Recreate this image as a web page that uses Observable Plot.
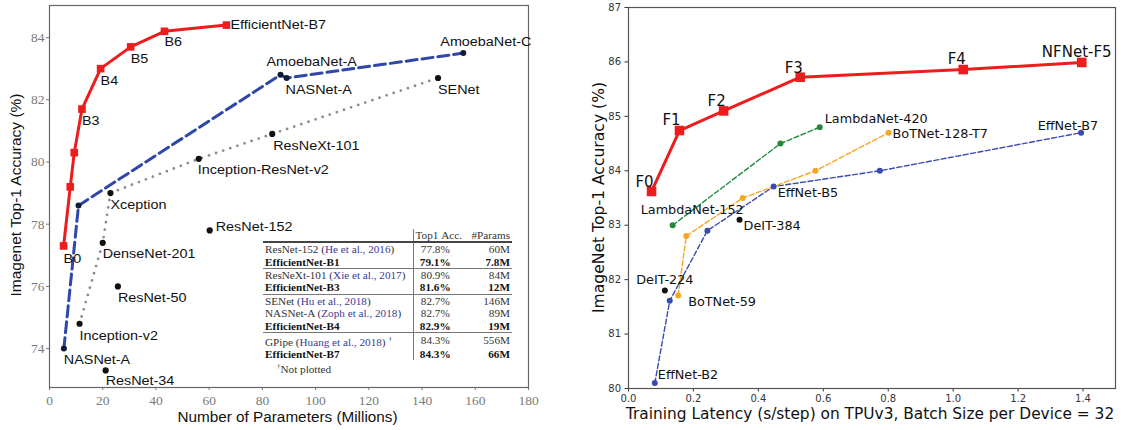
<!DOCTYPE html>
<html><head><meta charset="utf-8">
<script src="https://cdn.jsdelivr.net/npm/d3@7"></script>
<script src="https://cdn.jsdelivr.net/npm/@observablehq/plot@0.6"></script>
<style>
html,body{margin:0;padding:0;background:#fff}
body{width:1126px;height:430px;overflow:hidden;position:relative}
#left{position:absolute;left:0;top:0}
#right{position:absolute;left:580px;top:0}
#tbl{position:absolute;left:263px;top:229px;width:249px}
#tbl table{border-collapse:collapse;table-layout:fixed;width:249px;font-family:"Liberation Serif","Times New Roman",serif;font-size:11.2px;color:#333}
#tbl td{padding:0 2px;height:12.4px;line-height:12px;white-space:nowrap;overflow:visible}
#tbl tr.hdr td{border-bottom:2px solid #444;height:12px}
#tbl tr.grp td{border-top:1px solid #777}
#tbl td.v{border-left:1px solid #777}
#tbl .cite{color:#3a3c98}
#tbl b{color:#111}
</style></head><body>
<div id="left"></div><div id="right"></div><div id="tbl"></div>
<script>
// ---------- LEFT PANEL DATA (params in millions, top-1 %) ----------
const effLabels = ["B0","","","B3","B4","B5","B6","EfficientNet-B7"];
const effParams = [5.3,7.8,9.3,12.2,19.2,30.5,43.2,66.5];
const effAcc    = [77.3,79.2,80.3,81.7,83.0,83.7,84.2,84.4];

const nasLabels = ["NASNet-A","","AmoebaNet-A","NASNet-A","AmoebaNet-C"];
const nasParams = [5.4,10.9,86.8,89.1,155.5];
const nasAcc    = [74.0,78.6,82.8,82.7,83.5];

const grayLabels = ["Inception-v2","DenseNet-201","Xception","Inception-ResNet-v2","ResNeXt-101","SENet"];
const grayParams = [11.3,20.0,22.9,56.1,83.7,146.0];
const grayAcc    = [74.8,77.4,79.0,80.1,80.9,82.7];

const resLabels = ["ResNet-34","ResNet-50","ResNet-152"];
const resParams = [21.1,25.7,60.2];
const resAcc    = [73.3,76.0,77.8];

const leftXTicks = [0,20,40,60,80,100,120,140,160,180];
const leftYTicks = [74,76,78,80,82,84];

// table inside left panel
const tableModels = ["ResNet-152","EfficientNet-B1","ResNeXt-101","EfficientNet-B3","SENet","NASNet-A","EfficientNet-B4","GPipe","EfficientNet-B7"];
const tableCites  = ["He et al., 2016","","Xie et al., 2017","","Hu et al., 2018","Zoph et al., 2018","","Huang et al., 2018",""];
const tableAcc    = ["77.8%","79.1%","80.9%","81.6%","82.7%","82.7%","82.9%","84.3%","84.3%"];
const tableParams = ["60M","7.8M","84M","12M","146M","89M","19M","556M","66M"];
const tableGroup  = [0,0,1,1,2,2,2,3,3];
const tableDagger = [false,false,false,false,false,false,false,true,false];

// ---------- RIGHT PANEL DATA (latency s/step, top-1 %) ----------
const nfLabels = ["F0","F1","F2","F3","F4","NFNet-F5"];
const nfLat    = [0.071,0.157,0.293,0.529,1.031,1.396];
const nfAcc    = [83.62,84.74,85.10,85.72,85.86,85.99];

const lambdaLabels = ["LambdaNet-152","","LambdaNet-420"];
const lambdaLat    = [0.136,0.468,0.589];
const lambdaAcc    = [83.0,84.5,84.8];

const botLabels = ["BoTNet-59","","","","BoTNet-128-T7"];
const botLat    = [0.153,0.178,0.352,0.576,0.801];
const botAcc    = [81.71,82.8,83.5,84.0,84.7];

const effRLabels = ["EffNet-B2","","","EffNet-B5","","EffNet-B7"];
const effRLat    = [0.081,0.127,0.243,0.447,0.774,1.394];
const effRAcc    = [80.1,81.61,82.9,83.71,84.0,84.7];

const deitLabels = ["DeIT-224","DeIT-384"];
const deitLat    = [0.112,0.342];
const deitAcc    = [81.8,83.1];

const rightXTicks = [0,0.2,0.4,0.6,0.8,1.0,1.2,1.4];
const rightYTicks = [80,81,82,83,84,85,86,87];

// ---------- label placement (layout only) ----------
const effOff  = [[0,13,"start"],null,null,[0,12,"start"],[0,12,"start"],[0,12,"start"],[0,11,"start"],[4,0,"start"]];
const nasOff  = [[0,11,"start"],null,[-14,-13,"start"],[-1,12,"start"],[-23,-11,"start"]];
const grayOff = [[0,12,"start"],[0,11,"start"],[0,12,"start"],[-1,11,"start"],[1,12,"start"],[0,12,"start"]];
const resOff  = [[0,11,"start"],[0,12,"start"],[6,-3,"start"]];

const nfOff     = [[-7,-9,"middle"],[-8,-10,"middle"],[-7,-10,"middle"],[-6.5,-9,"middle"],[-6.5,-10,"middle"],[-5,-10,"middle"]];
const lambdaOff = [[-32,-15,"start"],null,[5,-8,"start"]];
const botOff    = [[10,6,"start"],null,null,null,[4,1,"start"]];
const effROff   = [[3,-8,"start"],null,null,[4,6,"start"],null,[17,-7,"end"]];
const deitOff   = [[0,-11,"middle"],[4,6,"start"]];

function rows(labels, xs, ys, offs) {
  return labels.map((l, i) => ({label: l, x: xs[i], y: ys[i], off: offs ? offs[i] : null}));
}
function labelMarks(data, opts) {
  const groups = d3.groups(data.filter(d => d.label && d.off), d => d.off.join(","));
  return groups.map(([k, g]) => Plot.text(g, {
    x: "x", y: "y", text: "label",
    dx: g[0].off[0], dy: g[0].off[1], textAnchor: g[0].off[2],
    className: "lbl",
    ...opts
  }));
}

const effData  = rows(effLabels, effParams, effAcc, effOff);
const nasData  = rows(nasLabels, nasParams, nasAcc, nasOff);
const grayData = rows(grayLabels, grayParams, grayAcc, grayOff);
const resData  = rows(resLabels, resParams, resAcc, resOff);

const leftFont = {fontFamily: "Liberation Sans, Arial, sans-serif", fontSize: 12.5, fill: "#111"};

const left = Plot.plot({
  width: 545, height: 430,
  marginLeft: 49, marginRight: 17, marginTop: 5, marginBottom: 43,
  x: {domain: [0, 180], ticks: leftXTicks, tickSize: 3, tickPadding: 5, label: null},
  y: {domain: [72.75, 85.03], ticks: leftYTicks, tickSize: 3, tickPadding: 2, label: null},
  style: {fontFamily: "Liberation Serif, serif", fontSize: "13.5px", color: "#7a7a7a", background: "white"},
  marks: [
    Plot.frame({stroke: "#666", strokeWidth: 1.2}),
    Plot.line(grayData, {x: "x", y: "y", stroke: "#8c8c8c", strokeWidth: 2.8, strokeDasharray: "0 7.5", strokeLinecap: "round"}),
    Plot.line(nasData, {x: "x", y: "y", stroke: "#2f47a8", strokeWidth: 3, strokeDasharray: "11 5"}),
    Plot.line(effData, {x: "x", y: "y", stroke: "#ee1c1c", strokeWidth: 3}),
    Plot.dot(effData, {x: "x", y: "y", symbol: "square", fill: "#ee1c1c", r: 4.3}),
    Plot.dot(nasData, {x: "x", y: "y", fill: "#141a3a", r: 3}),
    Plot.dot(grayData, {x: "x", y: "y", fill: "#111", r: 3.1}),
    Plot.dot(resData, {x: "x", y: "y", fill: "#111", r: 3.1}),
    ...labelMarks(effData, leftFont),
    ...labelMarks(nasData, leftFont),
    ...labelMarks(grayData, leftFont),
    ...labelMarks(resData, leftFont)
  ]
});
document.getElementById("left").appendChild(left);

const nfData     = rows(nfLabels, nfLat, nfAcc, nfOff);
const lambdaData = rows(lambdaLabels, lambdaLat, lambdaAcc, lambdaOff);
const botData    = rows(botLabels, botLat, botAcc, botOff);
const effRData   = rows(effRLabels, effRLat, effRAcc, effROff);
const deitData   = rows(deitLabels, deitLat, deitAcc, deitOff);

const rFont = {fontFamily: "DejaVu Sans, sans-serif", fontSize: 12.8, fill: "#111"};
const rBig  = {fontFamily: "DejaVu Sans, sans-serif", fontSize: 15, fill: "#111"};

const right = Plot.plot({
  width: 546, height: 430,
  marginLeft: 48, marginRight: 11, marginTop: 7, marginBottom: 42,
  x: {domain: [0, 1.5], ticks: rightXTicks, tickFormat: d3.format(".1f"), tickSize: 3.5, tickPadding: 2.5, label: null},
  y: {domain: [80, 87], ticks: rightYTicks, tickFormat: d3.format("d"), tickSize: 3.5, tickPadding: 4, label: null},
  style: {fontFamily: "DejaVu Sans, sans-serif", fontSize: "10px", color: "#333", background: "white"},
  marks: [
    Plot.frame({stroke: "#555", strokeWidth: 1.2}),
    Plot.line(effRData, {x: "x", y: "y", stroke: "#3a4bb0", strokeWidth: 1.4, strokeDasharray: "5 2.5"}),
    Plot.line(botData, {x: "x", y: "y", stroke: "#f6a623", strokeWidth: 1.4, strokeDasharray: "5 2.5"}),
    Plot.line(lambdaData, {x: "x", y: "y", stroke: "#24883a", strokeWidth: 1.4, strokeDasharray: "5 2.5"}),
    Plot.dot(effRData, {x: "x", y: "y", fill: "#3a4bb0", r: 3}),
    Plot.dot(botData, {x: "x", y: "y", fill: "#f6a623", r: 3}),
    Plot.dot(lambdaData, {x: "x", y: "y", fill: "#24883a", r: 3}),
    Plot.dot(deitData, {x: "x", y: "y", fill: "#111", r: 3}),
    Plot.line(nfData, {x: "x", y: "y", stroke: "#ee1c1c", strokeWidth: 3}),
    Plot.dot(nfData, {x: "x", y: "y", symbol: "square", fill: "#ee1c1c", r: 5.4}),
    ...labelMarks(nfData, rBig),
    ...labelMarks(lambdaData, rFont),
    ...labelMarks(botData, rFont),
    ...labelMarks(effRData, rFont),
    ...labelMarks(deitData, rFont)
  ]
});
document.getElementById("right").appendChild(right);

// the left reference panel's point labels are horizontally stretched: widen those glyphs
left.querySelectorAll("g.lbl text, .lbl text").forEach(t => {
  const len = t.getComputedTextLength();
  if (len > 0) { t.setAttribute("textLength", len * 1.15); t.setAttribute("lengthAdjust", "spacingAndGlyphs"); }
});

// axis titles
const ls = d3.select(left);
ls.append("text").attr("x", 287.5).attr("y", 417).attr("dy","0.35em")
  .attr("text-anchor","middle").attr("font-family","Liberation Sans, Arial, sans-serif")
  .attr("font-size", 15.3).attr("fill","#111")
  .text("Number of Parameters (Millions)");
ls.append("text").attr("transform","translate(16,195) rotate(-90)").attr("dy","0.35em")
  .attr("text-anchor","middle").attr("font-family","Liberation Sans, Arial, sans-serif")
  .attr("font-size", 15.5).attr("fill","#111")
  .text("Imagenet Top-1 Accuracy (%)");

const rs = d3.select(right);
rs.append("text").attr("x", 290).attr("y", 413.5).attr("dy","0.35em")
  .attr("text-anchor","middle").attr("font-family","DejaVu Sans, sans-serif")
  .attr("font-size", 15.4).attr("fill","#111")
  .text("Training Latency (s/step) on TPUv3, Batch Size per Device = 32");
rs.append("text").attr("transform","translate(19,197.5) rotate(-90)").attr("dy","0.35em")
  .attr("text-anchor","middle").attr("font-family","DejaVu Sans, sans-serif")
  .attr("font-size", 15.6).attr("fill","#111")
  .text("ImageNet Top-1 Accuracy (%)");

// table
let html = '<table><colgroup><col style="width:150px"><col style="width:44px"><col style="width:55px"></colgroup>';
html += '<tr class="hdr"><td></td><td class="v" style="text-align:left">Top1&nbsp;Acc.</td><td style="text-align:right">#Params</td></tr>';
tableModels.forEach((m, i) => {
  const bold = !tableCites[i];
  const grp = i > 0 && tableGroup[i] !== tableGroup[i - 1];
  const name = bold ? `<b>${m}</b>` : `${m} (<span class="cite">${tableCites[i]}</span>)${tableDagger[i] ? ' <sup style="font-size:7px">†</sup>' : ''}`;
  const acc = bold ? `<b>${tableAcc[i]}</b>` : tableAcc[i];
  const par = bold ? `<b>${tableParams[i]}</b>` : tableParams[i];
  html += `<tr${grp ? ' class="grp"' : ''}><td>${name}</td><td class="v" style="text-align:center">${acc}</td><td style="text-align:right">${par}</td></tr>`;
});
html += '<tr><td colspan="3" style="padding-left:14px"><sup style="font-size:7px">†</sup>Not plotted</td></tr></table>';
document.getElementById("tbl").innerHTML = html;
</script>
</body></html>
